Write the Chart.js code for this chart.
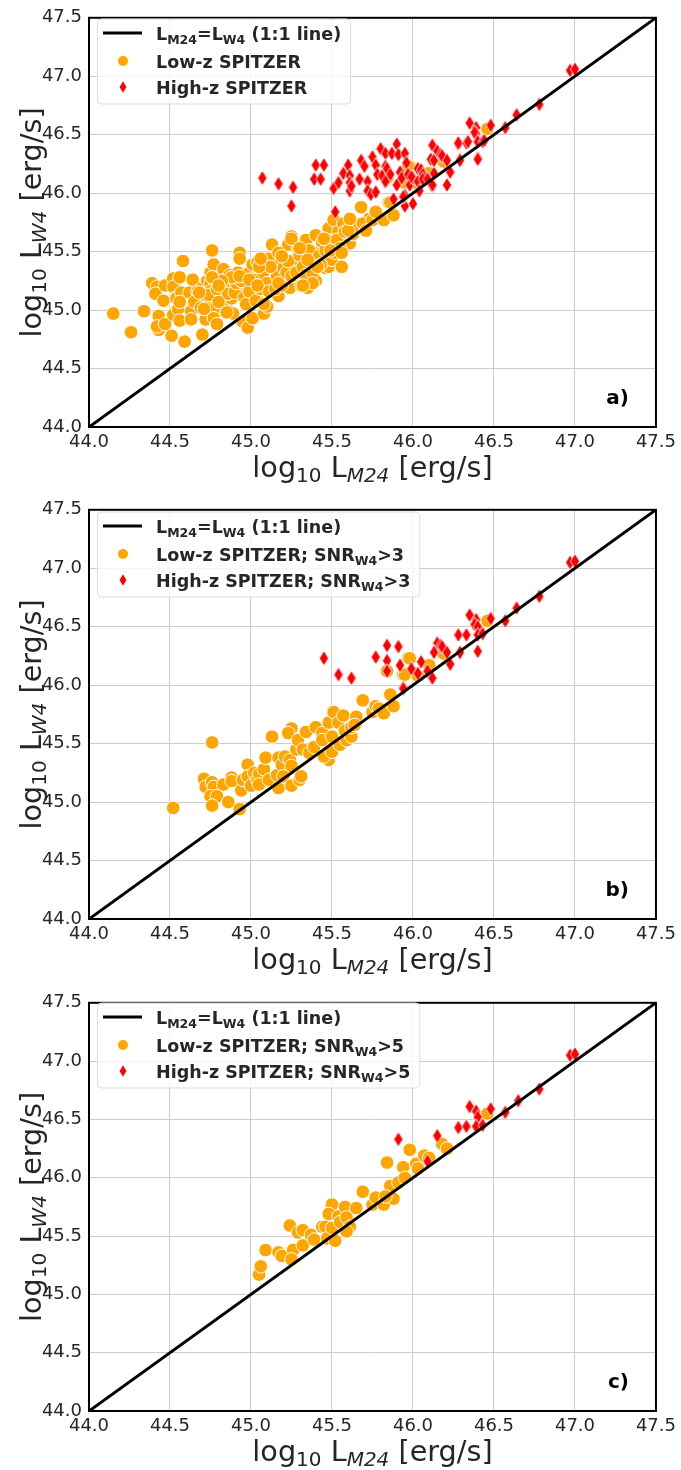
<!DOCTYPE html>
<html><head><meta charset="utf-8">
<script src="https://cdn.jsdelivr.net/npm/chart.js@4.4.1/dist/chart.umd.min.js"></script>
<style>
html,body{margin:0;padding:0;background:#fff;}
#wrap{position:relative;width:681px;height:1470px;overflow:hidden;}
canvas{position:absolute;left:0;}
</style></head><body>
<div id="wrap">
<canvas id="ca" width="681" height="492" style="top:0px"></canvas>
<canvas id="cb" width="681" height="493" style="top:492px"></canvas>
<canvas id="cc" width="681" height="485" style="top:985px"></canvas>
</div>
<script>
// ---------- tick labels ----------
const xTicks = [44.0, 44.5, 45.0, 45.5, 46.0, 46.5, 47.0, 47.5];
const yTicks = [44.0, 44.5, 45.0, 45.5, 46.0, 46.5, 47.0, 47.5];
// ---------- 1:1 line ----------
const oneToOne = [[44.0, 44.0], [47.5, 47.5]];
// ---------- panel a ----------
const lowA = [[44.15,44.97],[44.26,44.81],[44.34,44.99],[44.39,45.23],[44.42,45.20],[44.41,45.14],[44.43,44.95],[44.43,44.83],[44.42,44.86],[44.47,45.21],[44.46,45.08],[44.47,44.88],[44.51,44.78],[44.52,45.27],[44.52,45.20],[44.54,45.11],[44.54,45.10],[44.52,44.96],[44.55,45.01],[44.56,44.91],[44.56,45.28],[44.58,45.42],[44.59,44.73],[44.57,45.15],[44.62,45.15],[44.64,45.26],[44.63,44.99],[44.63,44.92],[44.67,45.16],[44.70,44.79],[44.70,45.19],[44.70,45.10],[44.72,44.92],[44.73,45.25],[44.75,45.32],[44.76,45.51],[44.77,45.39],[44.75,45.23],[44.75,45.16],[44.75,45.08],[44.77,45.01],[44.77,44.93],[44.79,44.88],[44.83,45.35],[44.81,45.19],[44.82,45.12],[44.85,45.05],[44.87,45.30],[44.88,45.21],[44.88,45.10],[44.89,44.97],[44.93,45.49],[44.93,45.44],[44.92,45.32],[44.92,45.16],[44.94,45.19],[44.95,44.90],[44.98,44.85],[44.97,45.23],[44.99,45.32],[45.01,44.93],[45.01,45.39],[45.01,45.19],[45.01,45.12],[45.04,45.41],[45.05,45.16],[45.06,45.23],[45.08,44.97],[45.10,45.03],[45.11,45.44],[45.13,45.56],[45.09,45.37],[45.10,45.32],[45.13,45.23],[45.15,45.26],[45.15,45.36],[45.17,45.12],[45.18,45.40],[45.19,45.32],[45.21,45.23],[45.23,45.56],[45.25,45.63],[45.24,45.19],[45.26,45.37],[45.28,45.44],[45.29,45.53],[45.31,45.21],[45.34,45.60],[45.35,45.19],[45.38,45.42],[45.39,45.49],[45.40,45.64],[45.40,45.25],[45.44,45.58],[45.46,45.36],[45.48,45.37],[45.48,45.70],[45.50,45.57],[45.50,45.43],[45.51,45.77],[45.54,45.67],[45.56,45.37],[45.57,45.74],[45.59,45.61],[45.61,45.57],[45.64,45.74],[45.68,45.88],[45.73,45.78],[45.77,45.83],[44.65,45.07],[44.69,45.02],[44.71,45.01],[44.74,45.13],[44.79,45.18],[44.80,45.07],[44.85,44.98],[44.86,45.14],[44.90,45.15],[44.91,45.23],[44.94,45.25],[44.96,45.11],[44.97,45.05],[44.99,45.16],[45.02,45.26],[45.03,45.08],[45.06,45.18],[45.07,45.30],[45.08,45.05],[45.10,45.23],[45.11,45.16],[45.15,45.18],[45.16,45.29],[45.19,45.21],[45.20,45.36],[45.22,45.32],[45.23,45.42],[45.25,45.29],[45.28,45.32],[45.30,45.47],[45.32,45.37],[45.34,45.30],[45.36,45.51],[45.38,45.32],[45.42,45.46],[45.43,45.39],[45.46,45.51],[45.47,45.60],[45.52,45.49],[45.53,45.60],[45.55,45.53],[45.58,45.67],[45.63,45.65],[45.65,45.70],[45.69,45.74],[45.75,45.77],[45.49,45.51],[45.17,45.49],[45.12,45.37],[45.05,45.37],[45.01,45.26],[44.88,45.28],[44.82,45.25],[44.76,45.28],[45.82,45.77],[45.88,45.82],[45.85,45.92],[45.95,46.09],[45.77,45.84],[45.84,46.13],[45.98,46.23],[46.03,46.08],[46.10,46.17],[46.19,46.27],[46.46,46.55],[45.86,45.92],[45.88,45.81],[45.97,46.23],[45.25,45.61],[45.30,45.53],[45.19,45.46],[45.17,45.23],[45.06,45.44],[44.93,45.29],[44.80,45.21],[44.68,45.15],[44.56,45.07],[44.99,45.26],[45.04,45.21],[45.38,45.23],[45.32,45.21],[45.41,45.37],[45.35,45.43],[45.45,45.61],[45.56,45.49],[45.60,45.68],[45.71,45.68],[45.61,45.78]];
const highA = [[45.07,46.13],[45.17,46.08],[45.26,46.05],[45.25,45.89],[45.40,46.24],[45.45,46.24],[45.39,46.12],[45.43,46.12],[45.51,46.04],[45.54,46.09],[45.52,45.84],[45.57,46.17],[45.60,46.24],[45.61,46.15],[45.61,46.09],[45.61,46.02],[45.62,46.06],[45.67,46.12],[45.68,46.28],[45.70,46.23],[45.72,46.10],[45.72,46.02],[45.74,45.99],[45.75,46.31],[45.77,46.24],[45.78,46.16],[45.77,46.01],[45.80,46.38],[45.81,46.15],[45.83,46.34],[45.83,46.23],[45.84,46.21],[45.86,46.16],[45.83,46.10],[45.87,46.34],[45.90,46.42],[45.91,46.33],[45.95,46.34],[45.90,46.07],[45.88,45.95],[45.92,46.18],[45.93,46.13],[45.96,46.26],[45.97,46.16],[45.98,46.07],[45.95,45.89],[45.95,45.98],[45.94,45.97],[46.00,45.91],[46.00,46.13],[45.99,46.14],[46.03,46.21],[46.03,46.10],[46.05,46.20],[46.04,46.02],[46.06,46.16],[46.06,46.12],[46.09,46.12],[46.12,46.06],[46.11,46.29],[46.12,46.41],[46.12,46.07],[46.13,46.17],[46.13,46.28],[46.15,46.36],[46.17,46.33],[46.18,46.32],[46.21,46.28],[46.21,46.07],[46.23,46.18],[46.28,46.42],[46.28,46.43],[46.29,46.29],[46.29,46.28],[46.33,46.43],[46.34,46.44],[46.35,46.60],[46.39,46.56],[46.39,46.51],[46.38,46.52],[46.40,46.30],[46.40,46.29],[46.40,46.44],[46.43,46.44],[46.44,46.45],[46.48,46.58],[46.57,46.56],[46.64,46.67],[46.78,46.76],[46.97,47.05],[47.00,47.06]];
// ---------- panel b (SNR_W4 > 3) ----------
const lowB = [[44.52,44.95],[44.76,45.51],[44.71,45.20],[44.72,45.13],[44.76,45.17],[44.77,45.13],[44.75,45.05],[44.79,45.05],[44.76,44.97],[44.83,45.15],[44.86,45.00],[44.88,45.21],[44.88,45.18],[44.93,44.94],[44.94,45.10],[44.95,45.19],[44.98,45.32],[44.98,45.22],[45.00,45.14],[45.02,45.25],[45.04,45.19],[45.05,45.24],[45.05,45.15],[45.08,45.28],[45.09,45.38],[45.11,45.19],[45.13,45.56],[45.16,45.23],[45.17,45.38],[45.17,45.12],[45.19,45.32],[45.21,45.39],[45.20,45.22],[45.24,45.36],[45.25,45.31],[45.25,45.14],[45.25,45.63],[45.23,45.59],[45.28,45.45],[45.29,45.53],[45.30,45.19],[45.31,45.22],[45.32,45.45],[45.34,45.60],[45.36,45.42],[45.39,45.47],[45.40,45.64],[45.44,45.59],[45.44,45.53],[45.46,45.38],[45.48,45.36],[45.45,45.39],[45.48,45.68],[45.51,45.77],[45.50,45.56],[45.50,45.43],[45.54,45.68],[45.55,45.49],[45.57,45.74],[45.58,45.61],[45.59,45.53],[45.62,45.56],[45.62,45.64],[45.65,45.73],[45.64,45.66],[45.69,45.87],[45.75,45.77],[45.77,45.82],[45.79,45.80],[45.82,45.76],[45.86,45.92],[45.88,45.82],[45.94,46.09],[45.97,46.23],[45.84,46.12],[45.98,46.23],[45.95,46.09],[46.10,46.17],[46.19,46.27],[46.46,46.55],[46.03,46.08]];
const highB = [[45.45,46.23],[45.54,46.09],[45.62,46.06],[45.77,46.24],[45.84,46.34],[45.91,46.33],[45.84,46.21],[45.92,46.17],[45.84,46.12],[45.94,45.98],[45.99,46.14],[46.03,46.10],[46.05,46.20],[46.09,46.12],[46.12,46.06],[45.94,45.97],[46.15,46.36],[46.17,46.34],[46.18,46.33],[46.13,46.28],[46.21,46.28],[46.23,46.18],[46.29,46.28],[46.28,46.43],[46.33,46.43],[46.35,46.60],[46.39,46.56],[46.38,46.52],[46.40,46.50],[46.40,46.43],[46.40,46.29],[46.43,46.44],[46.48,46.57],[46.57,46.55],[46.64,46.66],[46.78,46.76],[46.97,47.05],[47.00,47.06]];
// ---------- panel c (SNR_W4 > 5) ----------
const lowC = [[45.05,45.17],[45.06,45.24],[45.09,45.38],[45.17,45.36],[45.19,45.33],[45.24,45.59],[45.26,45.38],[45.25,45.30],[45.29,45.53],[45.32,45.55],[45.32,45.42],[45.37,45.51],[45.39,45.47],[45.44,45.58],[45.46,45.58],[45.47,45.48],[45.50,45.57],[45.50,45.77],[45.48,45.69],[45.52,45.46],[45.54,45.67],[45.58,45.75],[45.55,45.62],[45.59,45.66],[45.61,45.58],[45.59,45.54],[45.65,45.74],[45.69,45.88],[45.75,45.77],[45.77,45.83],[45.82,45.77],[45.84,46.13],[45.88,45.82],[45.86,45.93],[45.83,45.84],[45.91,45.96],[45.94,46.09],[45.95,46.00],[45.98,46.24],[46.02,46.12],[46.07,46.19],[46.10,46.17],[46.03,46.08],[46.18,46.29],[46.21,46.25],[46.46,46.55]];
const highC = [[45.91,46.33],[46.15,46.36],[46.09,46.14],[46.28,46.43],[46.33,46.44],[46.35,46.61],[46.39,46.57],[46.40,46.52],[46.39,46.44],[46.43,46.45],[46.48,46.59],[46.57,46.56],[46.65,46.66],[46.78,46.76],[46.97,47.05],[47.00,47.06]];

// ---------- style ----------
const FONT = "'DejaVu Sans', 'Liberation Sans', sans-serif";
const TXT = '#262626';
const ORANGE = '#FFA500';
const RED = '#FF0000';

function makeDiamond(hw, hh, edge){
  const c = document.createElement('canvas');
  const w = Math.ceil(2*hw + 2*edge + 1), h = Math.ceil(2*hh + 2*edge + 1);
  c.width = w; c.height = h;
  const g = c.getContext('2d');
  const cx = w/2, cy = h/2;
  g.beginPath();
  g.moveTo(cx, cy-hh); g.lineTo(cx+hw, cy); g.lineTo(cx, cy+hh); g.lineTo(cx-hw, cy); g.closePath();
  g.fillStyle = RED; g.fill();
  if (edge > 0){ g.strokeStyle = '#ffffff'; g.lineWidth = edge; g.stroke(); }
  return c;
}
const diamondPt = makeDiamond(4.6, 7.4, 0.8);

function fontStr(p){
  return (p.italic ? 'italic ' : '') + (p.bold ? 'bold ' : '') + p.size + 'px ' + FONT;
}
function richWidth(ctx, parts){
  let w = 0;
  parts.forEach(p => { ctx.font = fontStr(p); w += ctx.measureText(p.t).width; });
  return w;
}
function drawRich(ctx, parts, x, y, align){
  const w = richWidth(ctx, parts);
  let cx = align === 'center' ? x - w/2 : (align === 'right' ? x - w : x);
  ctx.textBaseline = 'alphabetic';
  ctx.textAlign = 'left';
  ctx.fillStyle = TXT;
  parts.forEach(p => {
    ctx.font = fontStr(p);
    ctx.fillText(p.t, cx, y + (p.dy || 0));
    cx += ctx.measureText(p.t).width;
  });
}

const T = 28.7, S = 20;
const xTitle = [{t:'log',size:T},{t:'10',size:S,dy:5},{t:' L',size:T},{t:'M24',size:S,italic:true,dy:5},{t:' [erg/s]',size:T}];
const yTitle = [{t:'log',size:T},{t:'10',size:S,dy:5},{t:' L',size:T},{t:'W4',size:S,italic:true,dy:5},{t:' [erg/s]',size:T}];

const LB = 17.5, LS = 12.5;
function legendRows(snr){
  const suffix = snr ? [{t:'; SNR',size:LB,bold:true},{t:'W4',size:LS,bold:true,dy:4},{t:'>'+snr,size:LB,bold:true}] : [];
  return [
    [{t:'L',size:LB,bold:true},{t:'M24',size:LS,bold:true,dy:4},{t:'=L',size:LB,bold:true},{t:'W4',size:LS,bold:true,dy:4},{t:' (1:1 line)',size:LB,bold:true}],
    [{t:'Low-z SPITZER',size:LB,bold:true}].concat(suffix),
    [{t:'High-z SPITZER',size:LB,bold:true}].concat(suffix)
  ];
}

function roundRect(ctx, x, y, w, h, r){
  ctx.beginPath();
  ctx.moveTo(x+r, y); ctx.lineTo(x+w-r, y); ctx.quadraticCurveTo(x+w, y, x+w, y+r);
  ctx.lineTo(x+w, y+h-r); ctx.quadraticCurveTo(x+w, y+h, x+w-r, y+h);
  ctx.lineTo(x+r, y+h); ctx.quadraticCurveTo(x, y+h, x, y+h-r);
  ctx.lineTo(x, y+r); ctx.quadraticCurveTo(x, y, x+r, y); ctx.closePath();
}

function decorPlugin(cfg){
  return {
    id: 'decor',
    afterDraw(chart){
      const ctx = chart.ctx, a = chart.chartArea;
      ctx.save();
      // frame
      ctx.strokeStyle = '#000'; ctx.lineWidth = 2;
      ctx.strokeRect(a.left, a.top, a.right - a.left, a.bottom - a.top);
      // axis titles
      drawRich(ctx, xTitle, (a.left + a.right)/2, cfg.xTitleY, 'center');
      ctx.save();
      ctx.translate(cfg.yTitleX, (a.top + a.bottom)/2);
      ctx.rotate(-Math.PI/2);
      drawRich(ctx, yTitle, 0, 0, 'center');
      ctx.restore();
      // legend
      const rows = cfg.rows;
      let maxW = 0;
      rows.forEach(r => { maxW = Math.max(maxW, richWidth(ctx, r)); });
      const bx = 97.5, by = cfg.legTop, bw = (156 - bx) + maxW + 9.5, bh = 85;
      roundRect(ctx, bx, by, bw, bh, 4);
      ctx.fillStyle = 'rgba(255,255,255,0.8)'; ctx.fill();
      ctx.strokeStyle = '#dddddd'; ctx.lineWidth = 1; ctx.stroke();
      const ry = [by + 14, by + 42, by + 68];
      ctx.strokeStyle = '#000'; ctx.lineWidth = 3;
      ctx.beginPath(); ctx.moveTo(103, ry[0]); ctx.lineTo(142, ry[0]); ctx.stroke();
      ctx.beginPath(); ctx.arc(123, ry[1], 5, 0, Math.PI*2);
      ctx.fillStyle = ORANGE; ctx.fill();
      ctx.beginPath(); ctx.moveTo(123, ry[2]-5.8); ctx.lineTo(126.4, ry[2]); ctx.lineTo(123, ry[2]+5.8); ctx.lineTo(119.6, ry[2]); ctx.closePath();
      ctx.fillStyle = RED; ctx.fill();
      rows.forEach((r, i) => drawRich(ctx, r, 156, ry[i] + 6.5, 'left'));
      // panel label
      ctx.fillStyle = '#000';
      ctx.font = 'bold 20px ' + FONT;
      ctx.textAlign = 'right'; ctx.textBaseline = 'alphabetic';
      ctx.fillText(cfg.label, 629, a.bottom - 23);
      ctx.restore();
    }
  };
}

function pts(arr){ return arr.map(p => ({x: p[0], y: p[1]})); }

function makeChart(id, low, high, H, bottom, cfg){
  const tickFont = {family: FONT, size: 18};
  new Chart(document.getElementById(id), {
    type: 'scatter',
    data: { datasets: [
      { label: 'L_M24 = L_W4 (1:1 line)', data: pts(oneToOne), showLine: true, borderColor: '#000', borderWidth: 3, pointRadius: 0, order: 0 },
      { label: cfg.highLabel, data: pts(high), pointStyle: diamondPt, pointRadius: 7, order: 1 },
      { label: cfg.lowLabel, data: pts(low), pointStyle: 'circle', pointRadius: 6.8, backgroundColor: ORANGE, borderColor: '#ffffff', borderWidth: 1, order: 2 }
    ]},
    options: {
      responsive: false, animation: false, devicePixelRatio: 1,
      layout: { padding: { left: 0, right: 22, top: 10, bottom: 0 } },
      plugins: { legend: { display: false }, tooltip: { enabled: false } },
      scales: {
        x: {
          type: 'linear', min: 44, max: 47.5,
          afterBuildTicks: s => { s.ticks = xTicks.map(v => ({value: v})); },
          afterFit: s => { s.height = H - bottom; },
          ticks: { font: tickFont, color: TXT, padding: 5, maxRotation: 0, autoSkip: false, callback: v => Number(v).toFixed(1) },
          grid: { color: '#cccccc', lineWidth: 1, drawTicks: false },
          border: { display: false }
        },
        y: {
          type: 'linear', min: 44, max: 47.5,
          afterBuildTicks: s => { s.ticks = yTicks.map(v => ({value: v})); },
          afterFit: s => { s.width = 89; },
          ticks: { font: tickFont, color: TXT, padding: 7, autoSkip: false, callback: v => Number(v).toFixed(1) },
          grid: { color: '#cccccc', lineWidth: 1, drawTicks: false },
          border: { display: false }
        }
      }
    },
    plugins: [decorPlugin(cfg)]
  });
}

makeChart('ca', lowA, highA, 492, 427, {rows: legendRows(null), legTop: 19, label: 'a)', xTitleY: 477, yTitleX: 41, lowLabel: 'Low-z SPITZER', highLabel: 'High-z SPITZER'});
makeChart('cb', lowB, highB, 493, 427, {rows: legendRows(3), legTop: 20, label: 'b)', xTitleY: 477, yTitleX: 41, lowLabel: 'Low-z SPITZER; SNR_W4>3', highLabel: 'High-z SPITZER; SNR_W4>3'});
makeChart('cc', lowC, highC, 485, 426, {rows: legendRows(5), legTop: 18, label: 'c)', xTitleY: 476, yTitleX: 41, lowLabel: 'Low-z SPITZER; SNR_W4>5', highLabel: 'High-z SPITZER; SNR_W4>5'});
</script>
</body></html>
